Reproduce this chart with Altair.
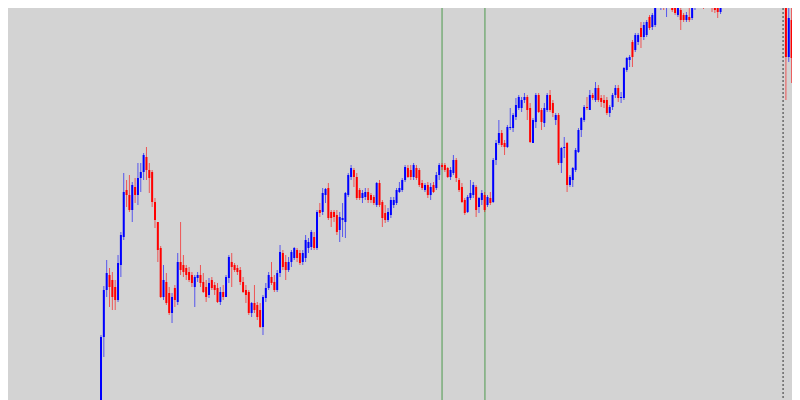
import altair as alt
import pandas as pd

# Candle data, in pips below the reference level REF (larger = lower price)
opens = [405,337,290,275,280,287,300,265,237,190,195,210,187,195,178,172,157,170,172,202,
         222,248,297,282,293,313,288,302,262,265,268,272,275,287,278,275,282,287,295,280,
         285,288,302,292,297,278,262,265,268,270,282,290,292,313,303,305,310,327,298,288,
         277,282,290,273,253,262,270,262,258,250,253,262,258,248,247,237,248,210,212,195,
         188,212,212,215,230,220,222,195,177,170,177,190,198,197,192,195,197,205,183,202,
         213,220,215,205,203,192,190,180,168,170,177,168,170,183,190,185,195,185,188,175,
         165,165,168,177,173,160,180,187,200,212,198,195,187,207,200,195,205,198,202,160,
         143,133,143,147,128,128,117,108,108,100,97,108,143,122,95,110,123,110,95,103,
         120,115,163,148,143,185,180,170,152,130,120,107,110,95,100,88,98,100,100,113,
         107,95,88,98,98,70,60,42,50,42,28,37,35,17,27,25,0,7,0,7,
         6,0,5,15,10,15,20,17,18,8,3,0,2,5,-2,0,3,4,12,5,
         2,-1,0,3,-2,-10,-18,-14,-25,-30,-26,-35,-40,-33,-38,-45,-40,-30,-25,-18,
         -12,-8,57,20,63,47,143]
highs = [335,286,260,268,272,280,255,232,173,180,175,182,178,163,163,153,147,163,170,198,
         222,246,265,273,287,293,285,253,222,255,265,267,272,275,272,265,273,280,278,277,
         282,283,287,285,275,255,253,263,265,267,277,285,290,302,285,302,303,295,283,272,
         262,275,270,245,250,255,257,250,247,248,250,250,235,238,230,232,210,203,188,188,
         183,210,210,210,212,203,192,173,165,168,173,188,190,188,188,193,195,182,180,200,
         205,208,197,197,188,182,178,165,165,165,163,165,168,180,183,182,183,182,172,163,
         163,163,167,167,155,158,178,183,198,195,180,182,185,197,190,192,195,192,158,140,
         120,130,140,125,108,113,98,95,97,93,95,103,118,93,93,108,103,93,90,100,
         113,113,147,137,142,175,167,148,128,117,105,97,90,93,82,85,95,95,97,105,
         93,85,85,92,67,57,55,40,33,33,22,22,20,15,13,-2,-3,0,-2,0,
         -3,-2,0,0,8,13,12,0,5,0,-3,-2,0,-3,-4,-2,0,2,0,-2,
         -3,-3,-2,-4,-12,-20,-22,-27,-34,-33,-38,-44,-42,-41,-48,-50,-43,-33,-28,-22,
         -15,-10,3,7,25,33,100]
lows = [405,357,297,307,310,310,302,277,240,207,212,222,203,205,192,180,180,193,207,228,
        262,298,300,305,315,323,307,305,275,277,280,282,287,307,282,287,293,302,298,290,
        295,303,305,300,297,283,287,272,275,285,293,303,315,317,313,320,328,335,302,290,
        285,292,292,277,270,280,272,267,260,262,265,265,262,253,250,250,250,217,215,203,
        220,227,222,235,242,237,238,197,180,187,200,200,203,200,203,203,205,207,207,227,
        223,222,218,208,205,193,192,182,178,180,180,180,187,190,192,198,200,193,190,180,
        170,172,178,180,175,182,192,203,215,213,200,198,217,213,205,212,207,205,203,165,
        145,147,155,148,130,132,120,110,112,103,120,143,143,128,113,130,127,112,112,117,
        125,165,173,158,192,187,187,172,153,137,122,110,110,100,102,102,107,108,115,117,
        110,98,102,103,100,72,67,67,52,45,48,40,37,30,30,27,8,10,10,17,
        8,12,15,17,30,22,22,22,20,10,5,7,9,6,5,12,13,18,14,7,
        3,6,7,4,-1,-8,-12,-12,-22,-24,-24,-32,-30,-30,-35,-37,-28,-22,-15,-8,
        -3,100,62,83,65,163,145]
closes = [337,290,273,287,297,300,263,235,192,195,210,185,195,178,172,155,170,178,202,220,
          250,297,280,303,313,297,300,262,270,272,275,280,283,277,275,283,292,297,283,288,
          290,302,292,297,277,257,267,270,272,282,292,295,313,303,310,317,327,297,288,275,
          283,290,273,252,267,270,262,252,248,258,263,253,240,242,232,248,212,213,193,189,
          218,218,217,232,217,218,193,175,168,177,198,198,193,192,200,200,203,183,205,218,
          220,212,200,200,190,188,180,167,177,177,165,178,185,188,185,195,187,192,175,165,
          167,170,177,170,160,178,190,202,213,197,193,185,210,198,193,210,197,203,160,143,
          133,145,147,127,127,115,105,97,100,97,110,142,120,95,112,122,108,95,110,113,
          115,163,148,147,185,177,168,150,130,118,107,108,95,98,88,100,102,103,113,107,
          95,88,98,97,68,58,57,57,35,35,37,25,22,28,15,2,5,2,8,3,
          0,10,13,8,20,20,15,20,7,3,0,5,7,0,3,8,10,12,3,0,
          -1,4,5,-1,-10,-18,-14,-25,-30,-26,-35,-40,-33,-38,-45,-40,-30,-25,-18,-12,
          -8,57,18,58,28,143,107]

# Vertical markers, as bar indices
green_markers = [120, 135.1]
session_marker = [240]

REF = 1.2500
PIP = 0.0001

n = len(closes)
df = pd.DataFrame({
    "bar": list(range(n)),
    "open": [REF - v * PIP for v in opens],
    "high": [REF - v * PIP for v in highs],
    "low": [REF - v * PIP for v in lows],
    "close": [REF - v * PIP for v in closes],
})
df["dir"] = ["down" if c < o else "up" for o, c in zip(df["open"], df["close"])]

xscale = alt.Scale(domain=[-32.72, 243.14], nice=False, zero=False)
yscale = alt.Scale(domain=[REF - 400 * PIP, REF - 8 * PIP], nice=False, zero=False)
cscale = alt.Scale(domain=["up", "down"], range=["#0000ff", "#ff0000"])

base = alt.Chart(df)

wicks = base.mark_rule(strokeWidth=1, opacity=0.6, clip=True).encode(
    x=alt.X("bar:Q", scale=xscale, axis=None),
    y=alt.Y("high:Q", scale=yscale, axis=None),
    y2="low:Q",
    color=alt.Color("dir:N", scale=cscale, legend=None),
)

bodies = base.mark_rule(strokeWidth=2, clip=True).encode(
    x=alt.X("bar:Q", scale=xscale, axis=None),
    y=alt.Y("open:Q", scale=yscale, axis=None),
    y2="close:Q",
    color=alt.Color("dir:N", scale=cscale, legend=None),
)

green = alt.Chart(pd.DataFrame({"bar": green_markers})).mark_rule(
    color="#4e9a4e", strokeWidth=1, clip=True
).encode(x=alt.X("bar:Q", scale=xscale, axis=None))

dotted = alt.Chart(pd.DataFrame({"bar": session_marker})).mark_rule(
    color="#333333", strokeWidth=1, strokeDash=[2, 2], clip=True
).encode(x=alt.X("bar:Q", scale=xscale, axis=None))

chart = alt.layer(green, dotted, wicks, bodies).properties(
    width=784, height=392,
    background="#d3d3d3",
    padding=0,
    autosize=alt.AutoSizeParams(type="none"),
).configure_view(stroke=None, fill="#d3d3d3")

chart.save("out.html", embed_options={"renderer": "svg", "actions": False})
